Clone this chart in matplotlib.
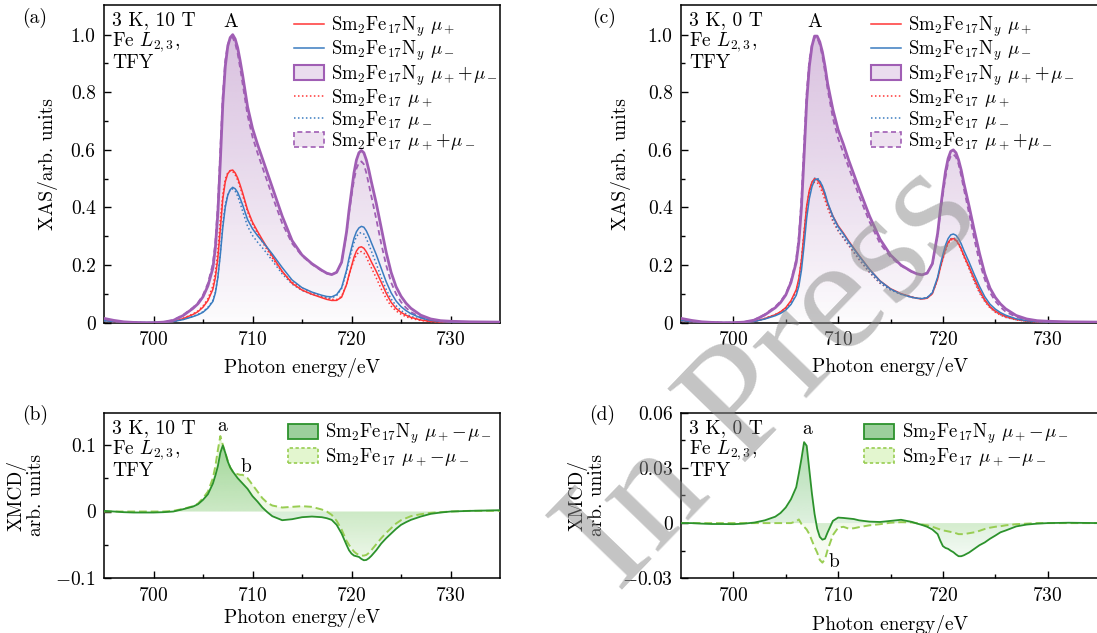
import numpy as np
import matplotlib
matplotlib.use('Agg')
import matplotlib.pyplot as plt
from matplotlib.lines import Line2D
from matplotlib.patches import Patch
from matplotlib.colors import to_rgb

plt.rcParams['font.family'] = 'cmr10'
plt.rcParams['mathtext.fontset'] = 'cm'
plt.rcParams['axes.formatter.use_mathtext'] = True
plt.rcParams['font.size'] = 14

# photon energy grid (eV) shared by every curve
energy = [695, 696, 697, 698, 699, 700, 701, 702, 703, 704, 704.5, 705, 705.5, 706,
          706.25, 706.5, 706.75, 707, 707.25, 707.5, 707.75, 708, 708.25, 708.5, 708.75,
          709, 709.5, 710, 710.5, 711, 711.5, 712, 713, 714, 715, 716, 717, 717.5, 718,
          718.5, 719, 719.5, 719.75, 720, 720.25, 720.5, 720.75, 721, 721.25, 721.5,
          721.75, 722, 722.5, 723, 723.5, 724, 724.5, 725, 725.5, 726, 727, 728, 729,
          730, 732, 735]

# XAS mu+ + mu- (3 K, 10 T)
sum_ny_10t = [0.015, 0.008, 0.003, 0.001, 0.0, 0.0, 0.002, 0.008, 0.025, 0.05, 0.066, 0.09,
              0.128, 0.19, 0.26, 0.38, 0.56, 0.76, 0.89, 0.96, 0.99, 1.0, 0.985, 0.955,
              0.91, 0.86, 0.75, 0.675, 0.62, 0.57, 0.52, 0.47, 0.37, 0.285, 0.235, 0.205,
              0.182, 0.172, 0.167, 0.175, 0.21, 0.315, 0.39, 0.455, 0.52, 0.565, 0.59,
              0.598, 0.59, 0.565, 0.53, 0.49, 0.415, 0.33, 0.245, 0.175, 0.125, 0.092,
              0.068, 0.05, 0.026, 0.013, 0.007, 0.005, 0.003, 0.002]
sum_17_10t = [0.012, 0.006, 0.002, 0.001, 0.0, 0.0, 0.002, 0.009, 0.027, 0.053, 0.07, 0.096,
              0.137, 0.205, 0.28, 0.41, 0.6, 0.79, 0.91, 0.965, 0.99, 0.99, 0.97, 0.935,
              0.885, 0.83, 0.72, 0.645, 0.59, 0.54, 0.49, 0.44, 0.345, 0.275, 0.232, 0.203,
              0.18, 0.171, 0.167, 0.175, 0.21, 0.31, 0.38, 0.44, 0.495, 0.535, 0.555,
              0.56, 0.55, 0.52, 0.48, 0.44, 0.36, 0.275, 0.2, 0.14, 0.1, 0.072, 0.052,
              0.037, 0.019, 0.01, 0.006, 0.004, 0.002, 0.001]

# XMCD mu+ - mu- (3 K, 10 T)
xmcd_ny_10t = [0.001, 0.0, -0.001, -0.0015, -0.0015, -0.0015, -0.001, 0.0, 0.0035, 0.0075,
               0.011, 0.0175, 0.026, 0.042, 0.054, 0.068, 0.088, 0.099, 0.088, 0.075, 0.066,
               0.06, 0.055, 0.05, 0.046, 0.042, 0.034, 0.023, 0.015, 0.006, -0.001, -0.007,
               -0.013, -0.0115, -0.0085, -0.0075, -0.0085, -0.01, -0.0125, -0.02, -0.033,
               -0.05, -0.058, -0.063, -0.066, -0.067, -0.068, -0.071, -0.073, -0.0725,
               -0.07, -0.0665, -0.058, -0.048, -0.04, -0.033, -0.026, -0.02, -0.016,
               -0.0125, -0.0075, -0.0035, -0.0015, 0.0, 0.001, 0.002]
xmcd_17_10t = [0.0, 0.0, 0.0, 0.0, 0.0, 0.0, 0.0, 0.001, 0.004, 0.008, 0.012, 0.02, 0.03,
               0.05, 0.068, 0.092, 0.113, 0.1, 0.088, 0.076, 0.066, 0.06, 0.057, 0.056,
               0.055, 0.055, 0.05, 0.04, 0.03, 0.02, 0.013, 0.009, 0.006, 0.007, 0.008,
               0.007, 0.003, 0.0, -0.005, -0.014, -0.027, -0.044, -0.05, -0.055, -0.06,
               -0.063, -0.065, -0.066, -0.066, -0.065, -0.062, -0.058, -0.049, -0.04,
               -0.032, -0.025, -0.018, -0.013, -0.01, -0.007, -0.004, -0.002, -0.001, 0.0,
               0.001, 0.001]

# XAS mu+ + mu- (3 K, 0 T)
sum_ny_0t = [0.015, 0.008, 0.003, 0.001, 0.0, 0.0, 0.002, 0.009, 0.027, 0.052, 0.07, 0.096,
             0.14, 0.21, 0.28, 0.4, 0.58, 0.77, 0.89, 0.96, 0.995, 0.995, 0.975, 0.94, 0.89,
             0.83, 0.74, 0.67, 0.62, 0.565, 0.515, 0.465, 0.37, 0.29, 0.235, 0.2, 0.178,
             0.17, 0.166, 0.172, 0.205, 0.31, 0.39, 0.46, 0.525, 0.57, 0.595, 0.6, 0.59,
             0.565, 0.53, 0.485, 0.405, 0.32, 0.24, 0.17, 0.12, 0.088, 0.065, 0.048, 0.025,
             0.013, 0.007, 0.005, 0.003, 0.002]
sum_17_0t = [0.012, 0.006, 0.002, 0.001, 0.0, 0.0, 0.002, 0.01, 0.029, 0.056, 0.074, 0.1,
             0.145, 0.22, 0.3, 0.43, 0.62, 0.8, 0.91, 0.965, 0.99, 0.99, 0.965, 0.925,
             0.87, 0.81, 0.71, 0.64, 0.59, 0.54, 0.49, 0.44, 0.35, 0.275, 0.228, 0.198,
             0.177, 0.17, 0.166, 0.173, 0.205, 0.305, 0.38, 0.445, 0.505, 0.555, 0.578,
             0.585, 0.575, 0.55, 0.51, 0.465, 0.38, 0.29, 0.21, 0.15, 0.105, 0.075, 0.054,
             0.038, 0.02, 0.01, 0.006, 0.004, 0.002, 0.001]

# XMCD mu+ - mu- (3 K, 0 T)
xmcd_ny_0t = [0.0, 0.0, -0.0003, -0.0005, -0.0005, -0.0006, -0.0003, 0.0003, 0.0015, 0.0035,
              0.0055, 0.0085, 0.013, 0.0195, 0.027, 0.035, 0.044, 0.042, 0.029, 0.016, 0.005,
              -0.003, -0.0075, -0.009, -0.0085, -0.005, 0.0012, 0.003, 0.0028, 0.0025,
              0.0022, 0.0015, 0.0008, 0.0006, 0.0012, 0.0018, 0.0007, -0.0002, -0.001,
              -0.002, -0.0035, -0.006, -0.0095, -0.0125, -0.0135, -0.014, -0.015, -0.0158,
              -0.017, -0.018, -0.018, -0.0175, -0.016, -0.014, -0.012, -0.0105, -0.0085,
              -0.0068, -0.005, -0.004, -0.0018, -0.0008, -0.0003, 0.0, 0.0002, 0.0]
xmcd_17_0t = [0.0, 0.0, 0.0, 0.0, 0.0, 0.0, 0.0, 0.0, 0.0, 0.0, 0.0, 0.0, 0.0, 0.001, 0.002,
              -0.0005, -0.002, -0.0035, -0.006, -0.0095, -0.013, -0.016, -0.02, -0.0215,
              -0.0195, -0.0145, -0.0065, -0.0025, -0.002, -0.003, -0.0028, -0.0022, -0.0012,
              -0.0006, 0.0002, 0.0005, 0.0004, 0.0, -0.0008, -0.0012, -0.002, -0.003,
              -0.0035, -0.004, -0.0042, -0.0045, -0.0048, -0.005, -0.0055, -0.006, -0.006,
              -0.006, -0.0055, -0.005, -0.0042, -0.0032, -0.0025, -0.002, -0.0017, -0.0012,
              -0.0006, -0.0003, 0.0, 0.0, 0.0, 0.0]

RED = '#ff3636'
BLUE = '#3a7cc0'
PURPLE = '#a05eb4'
LAVENDER = '#c9a6d2'
GREEN = '#2c922c'
GREEN_FILL = '#5cb85c'
LIME = '#98cd52'
LIME_FILL = '#b9e48e'

NY = r'Sm$_2$Fe$_{17}$N$_y$'
S17 = r'Sm$_2$Fe$_{17}$'

W, H = 1097, 633
LEG_KW = dict(loc='upper left', frameon=False, fontsize=13.5, handlelength=1.6,
              handleheight=0.85, handletextpad=0.4, labelspacing=0.0, borderpad=0.3,
              borderaxespad=0.2)


def gradient_fill(ax, x, y, color, a_top, a_bot, y_top, y_bot, zorder=1):
    poly = ax.fill_between(x, 0, y, facecolor='none', edgecolor='none')
    img = np.zeros((200, 1, 4))
    img[..., :3] = to_rgb(color)
    img[:, 0, 3] = np.linspace(a_bot, a_top, 200)
    im = ax.imshow(img, extent=[x[0], x[-1], y_bot, y_top], origin='lower',
                   aspect='auto', zorder=zorder, interpolation='bilinear')
    im.set_clip_path(poly.get_paths()[0], transform=ax.transData)


def style_axes(ax):
    ax.set_xlim(695, 735)
    ax.set_xticks([700, 710, 720, 730])
    ax.set_xticks([705, 715, 725], minor=True)
    ax.tick_params(which='both', direction='in', top=False, right=False, width=1.0)
    ax.tick_params(which='major', length=5, pad=6)
    ax.tick_params(which='minor', length=3)
    for s in ax.spines.values():
        s.set_linewidth(1.1)
    ax.set_xlabel('Photon energy/eV')


def xas_panel(ax, s_ny, d_ny, s_17, d_17, cond, legend_x):
    e = np.array(energy)
    s_ny = np.array(s_ny)
    s_17 = np.array(s_17)
    d_ny = np.array(d_ny)
    d_17 = np.array(d_17)
    gradient_fill(ax, e, s_ny, LAVENDER, 0.6, 0.03, 1.0, 0.0)
    gradient_fill(ax, e, s_17, LAVENDER, 0.22, 0.0, 1.0, 0.0)
    ax.plot(e, (s_17 + d_17) / 2, color=RED, lw=1.1, ls=(0, (1, 1.6)), zorder=3)
    ax.plot(e, (s_17 - d_17) / 2, color=BLUE, lw=1.1, ls=(0, (1, 1.6)), zorder=3)
    ax.plot(e, s_17, color=PURPLE, lw=1.3, ls=(0, (3, 2)), zorder=3)
    ax.plot(e, (s_ny + d_ny) / 2, color=RED, lw=1.1, zorder=4)
    ax.plot(e, (s_ny - d_ny) / 2, color=BLUE, lw=1.1, zorder=4)
    ax.plot(e, s_ny, color=PURPLE, lw=2.0, zorder=4)
    ax.set_ylim(0, 1.103)
    ax.set_yticks([0, 0.2, 0.4, 0.6, 0.8, 1.0])
    ax.set_yticklabels(['0', '0.2', '0.4', '0.6', '0.8', '1.0'])
    ax.set_yticks([0.1, 0.3, 0.5, 0.7, 0.9], minor=True)
    style_axes(ax)
    ax.set_ylabel('XAS/arb. units')
    ax.text(0.02, 0.98, cond + '\nFe $L_{2,3}$,\nTFY', transform=ax.transAxes,
            va='top', ha='left', linespacing=1.05)
    ax.text(707.8, 1.045, 'A', ha='center', va='center')
    handles = [
        Line2D([], [], color=RED, lw=1.1),
        Line2D([], [], color=BLUE, lw=1.1),
        Patch(facecolor='#eadcee', edgecolor=PURPLE, lw=1.5),
        Line2D([], [], color=RED, lw=1.1, ls=(0, (1, 1.6))),
        Line2D([], [], color=BLUE, lw=1.1, ls=(0, (1, 1.6))),
        Patch(facecolor='#eee2f0', edgecolor=PURPLE, lw=1.2, ls=(0, (3, 2))),
    ]
    labels = [NY + r' $\mu_+$', NY + r' $\mu_-$', NY + r' $\mu_+\!+\!\mu_-$',
              S17 + r' $\mu_+$', S17 + r' $\mu_-$', S17 + r' $\mu_+\!+\!\mu_-$']
    ax.legend(handles, labels, bbox_to_anchor=(legend_x, 1.0), **LEG_KW)


def xmcd_panel(ax, d_ny, d_17, cond, ylim, ticks, ticklabels, minor, a_pos, b_pos,
               legend_x):
    e = np.array(energy)
    d_ny = np.array(d_ny)
    d_17 = np.array(d_17)
    gradient_fill(ax, e, d_17, LIME_FILL, 0.45, 0.05, ylim[1], ylim[0])
    gradient_fill(ax, e, d_ny, GREEN_FILL, 0.6, 0.0, ylim[1], ylim[0])
    ax.plot(e, d_17, color=LIME, lw=1.4, ls=(0, (4, 2)), zorder=3)
    ax.plot(e, d_ny, color=GREEN, lw=1.3, zorder=4)
    ax.set_ylim(*ylim)
    ax.set_yticks(ticks)
    ax.set_yticklabels(ticklabels)
    ax.set_yticks(minor, minor=True)
    style_axes(ax)
    ax.set_ylabel('XMCD/\narb. units', linespacing=1.0)
    ax.text(0.02, 0.96, cond + '\nFe $L_{2,3}$,\nTFY', transform=ax.transAxes,
            va='top', ha='left', linespacing=1.05)
    ax.text(a_pos[0], a_pos[1], 'a', ha='center', va='center')
    ax.text(b_pos[0], b_pos[1], 'b', ha='center', va='center')
    handles = [
        Patch(facecolor='#9ccf9c', edgecolor=GREEN, lw=1.3),
        Patch(facecolor='#e3f6cf', edgecolor=LIME, lw=1.2, ls=(0, (2, 1.5))),
    ]
    labels = [NY + r' $\mu_+\!-\!\mu_-$', S17 + r' $\mu_+\!-\!\mu_-$']
    ax.legend(handles, labels, bbox_to_anchor=(legend_x, 1.0), **LEG_KW)


fig = plt.figure(figsize=(W / 100, H / 100), dpi=100)
ax_a = fig.add_axes([104 / W, 1 - 322.7 / H, 396 / W, 317.7 / H])
ax_c = fig.add_axes([681 / W, 1 - 322.7 / H, 419 / W, 317.7 / H])
ax_b = fig.add_axes([104 / W, 1 - 578.3 / H, 396 / W, 165.6 / H])
ax_d = fig.add_axes([681 / W, 1 - 578.3 / H, 419 / W, 165.6 / H])

xas_panel(ax_a, sum_ny_10t, xmcd_ny_10t, sum_17_10t, xmcd_17_10t, '3 K, 10 T', 0.455)
xas_panel(ax_c, sum_ny_0t, xmcd_ny_0t, sum_17_0t, xmcd_17_0t, '3 K, 0 T', 0.43)
xmcd_panel(ax_b, xmcd_ny_10t, xmcd_17_10t, '3 K, 10 T', (-0.1, 0.148), [-0.1, 0, 0.1],
           ['$-0.1$', '0', '0.1'], [-0.05, 0.05], (706.9, 0.128), (709.3, 0.066), 0.44)
xmcd_panel(ax_d, xmcd_ny_0t, xmcd_17_0t, '3 K, 0 T', (-0.03, 0.06),
           [-0.03, 0, 0.03, 0.06], ['$-0.03$', '0', '0.03', '0.06'],
           [-0.015, 0.015, 0.045], (707.0, 0.051), (709.6, -0.021), 0.415)

for ax, xl, yl in [(ax_a, -0.11, -0.115), (ax_c, -0.107, -0.12),
                   (ax_b, -0.18, -0.15), (ax_d, -0.22, -0.18)]:
    ax.xaxis.set_label_coords(0.5, xl)
    ax.yaxis.set_label_coords(yl, 0.5)

fig.text(35 / W, 1 - 18 / H, '(a)', ha='center', va='center')
fig.text(604 / W, 1 - 18 / H, '(c)', ha='center', va='center')
fig.text(35 / W, 1 - 415 / H, '(b)', ha='center', va='center')
fig.text(602 / W, 1 - 415 / H, '(d)', ha='center', va='center')

# watermark
fig.text(772 / W, 1 - 378 / H, 'In Press', family='Liberation Serif', fontsize=118,
         color='#8a8a8a', alpha=0.5, rotation=46, ha='center', va='center', zorder=10)

fig.savefig('out.png', dpi=100)
